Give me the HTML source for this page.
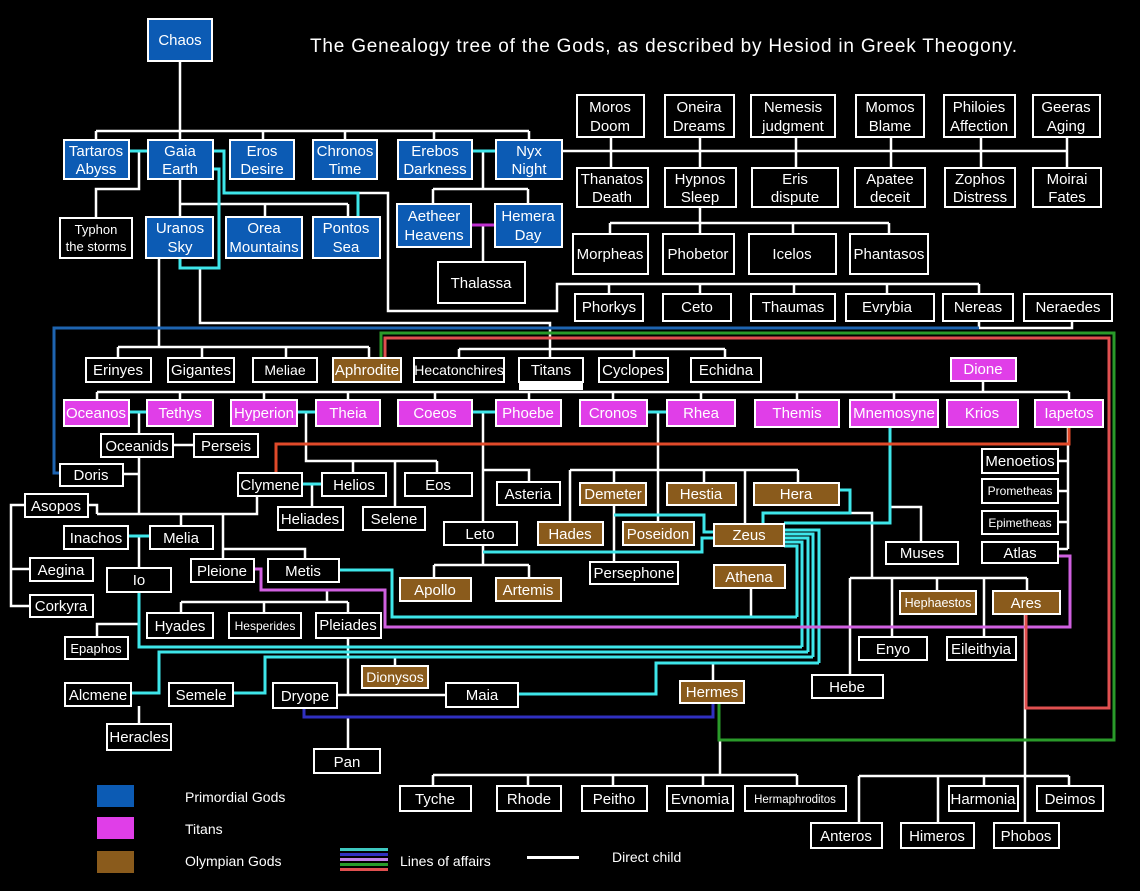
<!DOCTYPE html>
<html><head><meta charset="utf-8"><style>
html,body{margin:0;padding:0;background:#000;}
svg{display:block;font-family:"Liberation Sans",Arial,sans-serif;}
.b rect{stroke:#fff;stroke-width:2;}
text{fill:#fff;text-anchor:middle;font-size:15px;}
.w{stroke:#fff;stroke-width:2.5;fill:none;}
.c{stroke:#3ee6ea;stroke-width:3;fill:none;}
</style></head><body>
<svg width="1140" height="891" viewBox="0 0 1140 891" xmlns="http://www.w3.org/2000/svg">
<rect width="1140" height="891" fill="#000"/>
<text x="310" y="52" style="text-anchor:start;font-size:19px" textLength="707">The Genealogy tree of the Gods, as described by Hesiod in Greek Theogony.</text>

<!-- white lines -->
<path class="w" d="M180 60V140M96 131H529M96 131V140M263 131V140M345 131V140M434 131V140M529 131V140
M562 151H1067M611 137V168M700 137V168M796 137V168M891 137V168M981 137V168M1067 137V168
M139 151V189H96V218M180 179V217M180 204H348M265 204V217M348 204V217
M358 193H388V311H557V284H979M609 284V294M700 284V294M794 284V294M887 284V294M979 284V294
M483 151V189M433 189H528M433 189V204M528 189V204M483 225V262
M700 207V223M610 223H889M610 223V234M700 223V234M793 223V234M889 223V234
M979 321V328H1072V321
M159 258V347M118 347H369M118 347V358M202 347V358M286 347V358M369 347V358
M200 268V323H550V357M459 349H725M459 349V358M634 349V358M725 349V358
M983 381V392M97 392H1069M97 392V400M180 392V400M264 392V400M348 392V400M435 392V400M529 392V400M613 392V400M701 392V400M797 392V400M894 392V400M1069 392V400
M139 412V434M173 445H194M139 457V514M123 474H139M88 505H97V514M97 514H257V496M181 514V526M223 514V559M223 549H305V559
M25 505H11V606H30M11 569H30
M139 536V568M139 624H97V637
M327 590V602M181 602H348M181 602V613M264 602V613M348 602V613
M348 638V695M337 695H446M348 718V749M395 657V666M139 706V724
M306 412V461H437M353 461V473M395 461V507M437 461V473M312 484V507
M483 412V522M483 470H529V482M483 545V565M434 565H529M434 565V578M529 565V578
M658 412V522M570 470H798M570 470V522M614 470V483M704 470V483M745 470V524M798 470V483M614 505V562
M850 513H872V578M850 578H1027M850 578V675M892 578V637M937 578V591M984 578V637M1027 578V591
M890 507H921V542
M1068 427V549M1058 461H1068M1058 491H1068M1058 522H1068M1058 549H1068
M751 588V617M713 663V681M720 740V775M433 775H797M433 775V786M528 775V786M613 775V786M703 775V786M797 775V786
M1025 614V776M859 776H1069M859 776V823M938 776V823M984 776V786M1025 776V823M1069 776V786"/>
<rect x="519" y="380" width="64" height="10" fill="#fff"/>

<!-- cyan lines -->
<path class="c" d="M129 151H148M213 151H224V193H358V217M213 169H219V268H180V258M472 151H496
M129 412H147M297 412H316M472 412H496M647 412H667M128 536H150M302 484H322
M483 552H702V538H714M614 515H704V532H714M839 490H850V513H763V524M890 427V523H784
M784 530H819V663M784 534H813V657M784 538H808V652M784 542H802V647M784 546H797V617
M339 570H392V617H797M139 592V647H802M131 693H159V652H808M233 693H265V657H813M518 694H656V663H819"/>
<path d="M979 328H54V473H60" stroke="#1e64b0" stroke-width="3" fill="none"/>
<path d="M471 225H495" stroke="#c030d0" stroke-width="3"/>
<path d="M254 569H261V590H385V627H1070V556H1058" stroke="#d060e0" stroke-width="3" fill="none"/>
<path d="M304 708V717H713V703" stroke="#3030c0" stroke-width="3" fill="none"/>
<path d="M276 473V444H1069V427" stroke="#e04a2a" stroke-width="3" fill="none"/>
<path d="M385 358V338H1109V708H1026V614" stroke="#e05050" stroke-width="3" fill="none"/>
<path d="M381 358V333H1114V740H719V703" stroke="#2a9a2a" stroke-width="3" fill="none"/>

<g class="b">
<!-- primordial -->
<rect x="148" y="19" width="64" height="42" fill="#0c5bb4"/><text x="180" y="45">Chaos</text>
<rect x="64" y="140" width="65" height="39" fill="#0c5bb4"/><text x="96" y="156">Tartaros<tspan x="96" y="174">Abyss</tspan></text>
<rect x="148" y="140" width="65" height="39" fill="#0c5bb4"/><text x="180" y="156">Gaia<tspan x="180" y="174">Earth</tspan></text>
<rect x="230" y="140" width="64" height="39" fill="#0c5bb4"/><text x="262" y="156">Eros<tspan x="262" y="174">Desire</tspan></text>
<rect x="313" y="140" width="64" height="39" fill="#0c5bb4"/><text x="345" y="156">Chronos<tspan x="345" y="174">Time</tspan></text>
<rect x="398" y="140" width="74" height="39" fill="#0c5bb4"/><text x="435" y="156">Erebos<tspan x="435" y="174">Darkness</tspan></text>
<rect x="496" y="140" width="66" height="39" fill="#0c5bb4"/><text x="529" y="156">Nyx<tspan x="529" y="174">Night</tspan></text>
<rect x="60" y="218" width="72" height="40" fill="#000"/><text x="96" y="234" style="font-size:13px">Typhon<tspan x="96" y="251">the storms</tspan></text>
<rect x="146" y="217" width="67" height="41" fill="#0c5bb4"/><text x="180" y="233">Uranos<tspan x="180" y="252">Sky</tspan></text>
<rect x="226" y="217" width="76" height="41" fill="#0c5bb4"/><text x="264" y="233">Orea<tspan x="264" y="252">Mountains</tspan></text>
<rect x="313" y="217" width="67" height="41" fill="#0c5bb4"/><text x="346" y="233">Pontos<tspan x="346" y="252">Sea</tspan></text>
<rect x="397" y="204" width="74" height="43" fill="#0c5bb4"/><text x="434" y="221">Aetheer<tspan x="434" y="240">Heavens</tspan></text>
<rect x="495" y="204" width="67" height="43" fill="#0c5bb4"/><text x="528" y="221">Hemera<tspan x="528" y="240">Day</tspan></text>
<rect x="438" y="262" width="87" height="41" fill="#000"/><text x="481" y="288">Thalassa</text>

<!-- night children -->
<rect x="577" y="95" width="67" height="42" fill="#000"/><text x="610" y="112">Moros<tspan x="610" y="131">Doom</tspan></text>
<rect x="665" y="95" width="69" height="42" fill="#000"/><text x="699" y="112">Oneira<tspan x="699" y="131">Dreams</tspan></text>
<rect x="751" y="95" width="84" height="42" fill="#000"/><text x="793" y="112">Nemesis<tspan x="793" y="131">judgment</tspan></text>
<rect x="856" y="95" width="68" height="42" fill="#000"/><text x="890" y="112">Momos<tspan x="890" y="131">Blame</tspan></text>
<rect x="944" y="95" width="71" height="42" fill="#000"/><text x="979" y="112">Philoies<tspan x="979" y="131">Affection</tspan></text>
<rect x="1033" y="95" width="67" height="42" fill="#000"/><text x="1066" y="112">Geeras<tspan x="1066" y="131">Aging</tspan></text>
<rect x="577" y="168" width="71" height="39" fill="#000"/><text x="612" y="184">Thanatos<tspan x="612" y="202">Death</tspan></text>
<rect x="665" y="168" width="71" height="39" fill="#000"/><text x="700" y="184">Hypnos<tspan x="700" y="202">Sleep</tspan></text>
<rect x="752" y="168" width="86" height="39" fill="#000"/><text x="795" y="184">Eris<tspan x="795" y="202">dispute</tspan></text>
<rect x="855" y="168" width="70" height="39" fill="#000"/><text x="890" y="184">Apatee<tspan x="890" y="202">deceit</tspan></text>
<rect x="945" y="168" width="70" height="39" fill="#000"/><text x="980" y="184">Zophos<tspan x="980" y="202">Distress</tspan></text>
<rect x="1033" y="168" width="68" height="39" fill="#000"/><text x="1067" y="184">Moirai<tspan x="1067" y="202">Fates</tspan></text>
<rect x="573" y="234" width="75" height="40" fill="#000"/><text x="610" y="259">Morpheas</text>
<rect x="663" y="234" width="71" height="40" fill="#000"/><text x="698" y="259">Phobetor</text>
<rect x="749" y="234" width="87" height="40" fill="#000"/><text x="792" y="259">Icelos</text>
<rect x="850" y="234" width="78" height="40" fill="#000"/><text x="889" y="259">Phantasos</text>
<rect x="575" y="294" width="68" height="27" fill="#000"/><text x="609" y="312">Phorkys</text>
<rect x="663" y="294" width="68" height="27" fill="#000"/><text x="697" y="312">Ceto</text>
<rect x="751" y="294" width="84" height="27" fill="#000"/><text x="793" y="312">Thaumas</text>
<rect x="846" y="294" width="88" height="27" fill="#000"/><text x="887" y="312">Evrybia</text>
<rect x="943" y="294" width="70" height="27" fill="#000"/><text x="978" y="312">Nereas</text>
<rect x="1024" y="294" width="88" height="27" fill="#000"/><text x="1068" y="312">Neraedes</text>

<!-- uranos children -->
<rect x="86" y="358" width="65" height="24" fill="#000"/><text x="118" y="375">Erinyes</text>
<rect x="168" y="358" width="66" height="24" fill="#000"/><text x="201" y="375">Gigantes</text>
<rect x="253" y="358" width="64" height="24" fill="#000"/><text x="285" y="375" style="font-size:14px">Meliae</text>
<rect x="333" y="358" width="68" height="24" fill="#8a5b1c"/><text x="367" y="375">Aphrodite</text>
<rect x="414" y="358" width="90" height="24" fill="#000"/><text x="459" y="375" style="font-size:14px">Hecatonchires</text>
<rect x="519" y="358" width="64" height="24" fill="#000"/><text x="551" y="375">Titans</text>
<rect x="599" y="358" width="69" height="24" fill="#000"/><text x="633" y="375">Cyclopes</text>
<rect x="691" y="358" width="70" height="24" fill="#000"/><text x="726" y="375">Echidna</text>
<rect x="951" y="358" width="65" height="23" fill="#e03ee8"/><text x="983" y="374">Dione</text>

<!-- titans -->
<rect x="64" y="400" width="65" height="26" fill="#e03ee8"/><text x="96" y="418">Oceanos</text>
<rect x="147" y="400" width="66" height="26" fill="#e03ee8"/><text x="180" y="418">Tethys</text>
<rect x="231" y="400" width="66" height="26" fill="#e03ee8"/><text x="264" y="418">Hyperion</text>
<rect x="316" y="400" width="64" height="26" fill="#e03ee8"/><text x="348" y="418">Theia</text>
<rect x="398" y="400" width="74" height="26" fill="#e03ee8"/><text x="435" y="418">Coeos</text>
<rect x="496" y="400" width="65" height="26" fill="#e03ee8"/><text x="528" y="418">Phoebe</text>
<rect x="580" y="400" width="67" height="26" fill="#e03ee8"/><text x="613" y="418">Cronos</text>
<rect x="667" y="400" width="68" height="26" fill="#e03ee8"/><text x="701" y="418">Rhea</text>
<rect x="755" y="400" width="84" height="27" fill="#e03ee8"/><text x="797" y="418">Themis</text>
<rect x="850" y="400" width="88" height="27" fill="#e03ee8"/><text x="894" y="418">Mnemosyne</text>
<rect x="947" y="400" width="71" height="27" fill="#e03ee8"/><text x="982" y="418">Krios</text>
<rect x="1035" y="400" width="68" height="27" fill="#e03ee8"/><text x="1069" y="418">Iapetos</text>

<!-- left family -->
<rect x="101" y="434" width="72" height="23" fill="#000"/><text x="137" y="451">Oceanids</text>
<rect x="194" y="434" width="64" height="23" fill="#000"/><text x="226" y="451">Perseis</text>
<rect x="60" y="464" width="63" height="22" fill="#000"/><text x="91" y="480">Doris</text>
<rect x="25" y="494" width="63" height="23" fill="#000"/><text x="56" y="511">Asopos</text>
<rect x="64" y="526" width="64" height="23" fill="#000"/><text x="96" y="543">Inachos</text>
<rect x="150" y="526" width="63" height="23" fill="#000"/><text x="181" y="543">Melia</text>
<rect x="30" y="558" width="63" height="23" fill="#000"/><text x="61" y="575">Aegina</text>
<rect x="107" y="568" width="64" height="24" fill="#000"/><text x="139" y="585">Io</text>
<rect x="30" y="595" width="63" height="22" fill="#000"/><text x="61" y="611">Corkyra</text>
<rect x="65" y="637" width="63" height="22" fill="#000"/><text x="96" y="653" style="font-size:13px">Epaphos</text>
<rect x="65" y="683" width="66" height="23" fill="#000"/><text x="98" y="700">Alcmene</text>
<rect x="107" y="724" width="64" height="26" fill="#000"/><text x="139" y="742">Heracles</text>
<rect x="169" y="683" width="64" height="23" fill="#000"/><text x="201" y="700">Semele</text>
<rect x="238" y="473" width="64" height="23" fill="#000"/><text x="270" y="490">Clymene</text>
<rect x="322" y="473" width="64" height="23" fill="#000"/><text x="354" y="490">Helios</text>
<rect x="405" y="473" width="67" height="23" fill="#000"/><text x="438" y="490">Eos</text>
<rect x="278" y="507" width="65" height="23" fill="#000"/><text x="310" y="524">Heliades</text>
<rect x="363" y="507" width="62" height="23" fill="#000"/><text x="394" y="524">Selene</text>
<rect x="191" y="559" width="63" height="23" fill="#000"/><text x="222" y="576">Pleione</text>
<rect x="268" y="559" width="71" height="23" fill="#000"/><text x="303" y="576">Metis</text>
<rect x="147" y="613" width="66" height="25" fill="#000"/><text x="180" y="631">Hyades</text>
<rect x="229" y="613" width="72" height="25" fill="#000"/><text x="265" y="630" style="font-size:12px">Hesperides</text>
<rect x="316" y="613" width="65" height="25" fill="#000"/><text x="348" y="630">Pleiades</text>
<rect x="362" y="666" width="66" height="22" fill="#8a5b1c"/><text x="395" y="682" style="font-size:14px">Dionysos</text>
<rect x="273" y="683" width="64" height="25" fill="#000"/><text x="305" y="701">Dryope</text>
<rect x="446" y="683" width="72" height="24" fill="#000"/><text x="482" y="700">Maia</text>
<rect x="314" y="749" width="66" height="24" fill="#000"/><text x="347" y="767">Pan</text>

<!-- center -->
<rect x="497" y="482" width="63" height="23" fill="#000"/><text x="528" y="499">Asteria</text>
<rect x="444" y="522" width="73" height="23" fill="#000"/><text x="480" y="539">Leto</text>
<rect x="400" y="578" width="71" height="23" fill="#8a5b1c"/><text x="435" y="595">Apollo</text>
<rect x="496" y="578" width="65" height="23" fill="#8a5b1c"/><text x="528" y="595">Artemis</text>
<rect x="580" y="483" width="66" height="22" fill="#8a5b1c"/><text x="613" y="499">Demeter</text>
<rect x="667" y="483" width="69" height="22" fill="#8a5b1c"/><text x="701" y="499">Hestia</text>
<rect x="754" y="483" width="85" height="22" fill="#8a5b1c"/><text x="796" y="499">Hera</text>
<rect x="538" y="522" width="65" height="23" fill="#8a5b1c"/><text x="570" y="539">Hades</text>
<rect x="623" y="522" width="71" height="23" fill="#8a5b1c"/><text x="658" y="539">Poseidon</text>
<rect x="714" y="524" width="70" height="22" fill="#8a5b1c"/><text x="749" y="540">Zeus</text>
<rect x="590" y="562" width="88" height="22" fill="#000"/><text x="634" y="578">Persephone</text>
<rect x="714" y="565" width="71" height="23" fill="#8a5b1c"/><text x="749" y="582">Athena</text>
<rect x="886" y="542" width="72" height="22" fill="#000"/><text x="922" y="558">Muses</text>
<rect x="982" y="449" width="76" height="24" fill="#000"/><text x="1020" y="466">Menoetios</text>
<rect x="982" y="479" width="76" height="24" fill="#000"/><text x="1020" y="495" style="font-size:12px">Prometheas</text>
<rect x="982" y="511" width="76" height="23" fill="#000"/><text x="1020" y="527" style="font-size:12px">Epimetheas</text>
<rect x="982" y="542" width="76" height="21" fill="#000"/><text x="1020" y="558">Atlas</text>
<rect x="900" y="591" width="76" height="23" fill="#8a5b1c"/><text x="938" y="607" style="font-size:12.5px">Hephaestos</text>
<rect x="993" y="591" width="67" height="23" fill="#8a5b1c"/><text x="1026" y="608">Ares</text>
<rect x="859" y="637" width="68" height="23" fill="#000"/><text x="893" y="654">Enyo</text>
<rect x="947" y="637" width="69" height="23" fill="#000"/><text x="981" y="654">Eileithyia</text>
<rect x="812" y="675" width="71" height="23" fill="#000"/><text x="847" y="692">Hebe</text>
<rect x="680" y="681" width="64" height="22" fill="#8a5b1c"/><text x="712" y="697">Hermes</text>

<!-- bottom -->
<rect x="400" y="786" width="71" height="25" fill="#000"/><text x="435" y="804">Tyche</text>
<rect x="497" y="786" width="64" height="25" fill="#000"/><text x="529" y="804">Rhode</text>
<rect x="582" y="786" width="65" height="25" fill="#000"/><text x="614" y="804">Peitho</text>
<rect x="667" y="786" width="66" height="25" fill="#000"/><text x="700" y="804">Evnomia</text>
<rect x="745" y="786" width="101" height="25" fill="#000"/><text x="795" y="803" style="font-size:11.5px">Hermaphroditos</text>
<rect x="949" y="786" width="69" height="25" fill="#000"/><text x="983" y="804">Harmonia</text>
<rect x="1037" y="786" width="66" height="25" fill="#000"/><text x="1070" y="804">Deimos</text>
<rect x="811" y="823" width="71" height="25" fill="#000"/><text x="846" y="841">Anteros</text>
<rect x="901" y="823" width="73" height="25" fill="#000"/><text x="937" y="841">Himeros</text>
<rect x="994" y="823" width="65" height="25" fill="#000"/><text x="1026" y="841">Phobos</text>
</g>

<!-- legend -->
<rect x="97" y="785" width="37" height="22" fill="#0c5bb4"/>
<rect x="97" y="817" width="37" height="22" fill="#e03ee8"/>
<rect x="97" y="851" width="37" height="22" fill="#8a5b1c"/>
<text x="185" y="802" style="text-anchor:start;font-size:14px">Primordial Gods</text>
<text x="185" y="834" style="text-anchor:start;font-size:14px">Titans</text>
<text x="185" y="866" style="text-anchor:start;font-size:14px">Olympian Gods</text>
<rect x="340" y="848" width="48" height="3" fill="#3ec8c0"/>
<rect x="340" y="853" width="48" height="3" fill="#3030c0"/>
<rect x="340" y="858" width="48" height="3" fill="#c080e8"/>
<rect x="340" y="863" width="48" height="3" fill="#2a9a2a"/>
<rect x="340" y="868" width="48" height="3" fill="#e05050"/>
<text x="400" y="866" style="text-anchor:start;font-size:14px">Lines of affairs</text>
<rect x="527" y="856" width="52" height="3" fill="#fff"/>
<text x="612" y="862" style="text-anchor:start;font-size:14px">Direct child</text>
</svg>
</body></html>
